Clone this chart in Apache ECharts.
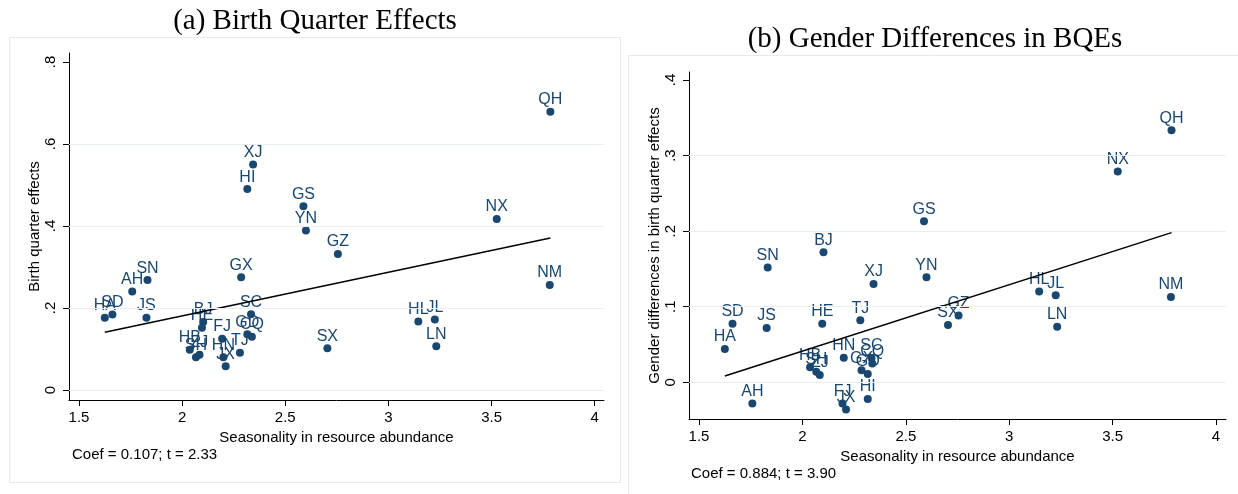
<!DOCTYPE html>
<html><head><meta charset="utf-8">
<script src="https://cdn.jsdelivr.net/npm/echarts@6/dist/echarts.min.js"></script>
<style>html,body{margin:0;padding:0;background:#fff}#c{width:1238px;height:494px}</style>
</head><body><div id="c"></div>
<script>
// ---- data ----
const provinces = ['AH','BJ','CQ','FJ','GD','GS','GX','GZ','HA','HB','HE','HI','HL','HN','JL','JS','JX','LN','NM','NX','QH','SC','SD','SH','SN','SX','TJ','XJ','YN','ZJ'];
const seasonality = [1.758,2.102,2.338,2.194,2.316,2.588,2.286,2.755,1.625,2.037,2.096,2.316,3.145,2.200,3.225,1.827,2.211,3.232,3.782,3.525,3.785,2.334,1.662,2.067,1.832,2.704,2.280,2.344,2.600,2.084];
const birthQuarterEffects = [0.240,0.166,0.130,0.125,0.136,0.448,0.275,0.332,0.176,0.098,0.152,0.490,0.167,0.080,0.172,0.176,0.058,0.107,0.256,0.417,0.679,0.185,0.184,0.080,0.268,0.102,0.091,0.550,0.389,0.086];
const genderDifferences = [-0.028,0.172,0.025,-0.028,0.011,0.213,0.016,0.0885,0.044,0.020,0.0775,-0.022,0.120,0.0326,0.115,0.0718,-0.036,0.0736,0.113,0.279,0.3335,0.032,0.0775,0.014,0.152,0.0758,0.082,0.130,0.139,0.0097];
const fitLineA = [[1.625,0.141],[3.785,0.371]];
const fitLineB = [[1.625,0.0084],[3.785,0.198]];
const xTicks = [1.5,2,2.5,3,3.5,4];
const xTickLabels = ['1.5','2','2.5','3','3.5','4'];
const yTicksA = [0,0.2,0.4,0.6,0.8];
const yTickLabelsA = ['0','.2','.4','.6','.8'];
const yTicksB = [0,0.1,0.2,0.3,0.4];
const yTickLabelsB = ['0','.1','.2','.3','.4'];
const gridValuesA = [0,0.2,0.4,0.6];
const gridValuesB = [0,0.1,0.2,0.3];
const titles = ['(a) Birth Quarter Effects','(b) Gender Differences in BQEs'];
const xTitle = 'Seasonality in resource abundance';
const yTitles = ['Birth quarter effects','Gender differences in birth quarter effects'];
const notes = ['Coef = 0.107; t = 2.33','Coef = 0.884; t = 3.90'];

// ---- chart ----
const F = "'Liberation Sans', Arial, sans-serif";
const SERIF = "'Liberation Serif', 'Times New Roman', serif";
const NAVY = '#1a476f';

function labelOf(ticks, labels){
  return function(v){
    let best = 0, d = Infinity;
    ticks.forEach((t,i)=>{ const dd = Math.abs(t - v); if (dd < d){ d = dd; best = i; } });
    return labels[best];
  };
}
function xAxisCfg(gi, min, max){
  return {
    type:'value', gridIndex:gi, min:min, max:max,
    name:xTitle, nameLocation:'middle', nameGap:26,
    nameTextStyle:{fontSize:15,color:'#000',fontFamily:F},
    axisLine:{show:true,onZero:false,lineStyle:{color:'#000',width:1}},
    axisTick:{show:true,length:6,customValues:xTicks,lineStyle:{color:'#000',width:1}},
    axisLabel:{customValues:xTicks,formatter:labelOf(xTicks,xTickLabels),fontSize:15,color:'#000',margin:10,fontFamily:F},
    splitLine:{show:false}
  };
}
function yAxisCfg(gi, min, max, ticks, labels, name){
  return {
    type:'value', gridIndex:gi, min:min, max:max,
    name:name, nameLocation:'middle', nameGap:27, nameRotate:90,
    nameTextStyle:{fontSize:15,color:'#000',fontFamily:F},
    axisLine:{show:true,onZero:false,lineStyle:{color:'#000',width:1}},
    axisTick:{show:true,length:6,customValues:ticks,lineStyle:{color:'#000',width:1}},
    axisLabel:{customValues:ticks,formatter:labelOf(ticks,labels),rotate:90,fontSize:15,color:'#000',margin:11,fontFamily:F},
    splitLine:{show:false}
  };
}
function pointData(ys){
  return provinces.map((p,i)=>({name:p, value:[seasonality[i], ys[i]]}));
}
function gridLineSeries(idx, gridVals){
  return {
    type:'line', xAxisIndex:idx, yAxisIndex:idx, data:[], z:1, silent:true,
    markLine:{silent:true, symbol:'none', label:{show:false}, animation:false,
      lineStyle:{color:'#e6eef0', width:1.2, type:'solid', opacity:1},
      data: gridVals.map(v=>({yAxis:v}))}
  };
}
function scatterSeries(idx, ys){
  return {
    type:'scatter', xAxisIndex:idx, yAxisIndex:idx,
    data:pointData(ys), symbol:'circle', symbolSize:8,
    itemStyle:{color:NAVY, opacity:1},
    label:{show:true, position:'top', distance:0, formatter:'{b}', color:NAVY, fontSize:16, fontFamily:F, lineHeight:16, opacity:1},
    labelLayout:{hideOverlap:false},
    emphasis:{disabled:true}, z:3
  };
}
function fitSeries(idx, pts){
  return {type:'line', xAxisIndex:idx, yAxisIndex:idx, data:pts, symbol:'none',
    lineStyle:{color:'#000', width:1.5}, z:4, silent:true, animation:false};
}

const chart = echarts.init(document.getElementById('c'), null, {renderer:'canvas'});
chart.setOption({
  backgroundColor:'#fff',
  animation:false,
  grid:[
    {left:69, top:53, width:535, height:347, outerBoundsMode:'none'},
    {left:689, top:72, width:537, height:347, outerBoundsMode:'none'}
  ],
  xAxis:[ xAxisCfg(0, 1.4515, 4.045), xAxisCfg(1, 1.4516, 4.0484) ],
  yAxis:[
    yAxisCfg(0, -0.0244, 0.822, yTicksA, yTickLabelsA, yTitles[0]),
    yAxisCfg(1, -0.0486, 0.4106, yTicksB, yTickLabelsB, yTitles[1])
  ],
  series:[
    gridLineSeries(0, gridValuesA),
    scatterSeries(0, birthQuarterEffects),
    fitSeries(0, fitLineA),
    gridLineSeries(1, gridValuesB),
    scatterSeries(1, genderDifferences),
    fitSeries(1, fitLineB)
  ],
  graphic:[
    {type:'rect', shape:{x:9.5,y:37.5,width:611,height:445}, style:{fill:'none',stroke:'#e4eaeb',lineWidth:1}, silent:true, z:-10},
    {type:'rect', shape:{x:628.5,y:55.5,width:620,height:450}, style:{fill:'none',stroke:'#e4eaeb',lineWidth:1}, silent:true, z:-10},
    {type:'text', x:315, y:21, style:{text:titles[0], font:"29px "+SERIF, fill:'#000', textAlign:'center', textVerticalAlign:'middle'}},
    {type:'text', x:935, y:39, style:{text:titles[1], font:"29px "+SERIF, fill:'#000', textAlign:'center', textVerticalAlign:'middle'}},
    {type:'text', x:72, y:455, style:{text:notes[0], font:"15px "+F, fill:'#000', textAlign:'left', textVerticalAlign:'middle'}},
    {type:'text', x:691, y:474, style:{text:notes[1], font:"15px "+F, fill:'#000', textAlign:'left', textVerticalAlign:'middle'}}
  ]
});
</script>
</body></html>
